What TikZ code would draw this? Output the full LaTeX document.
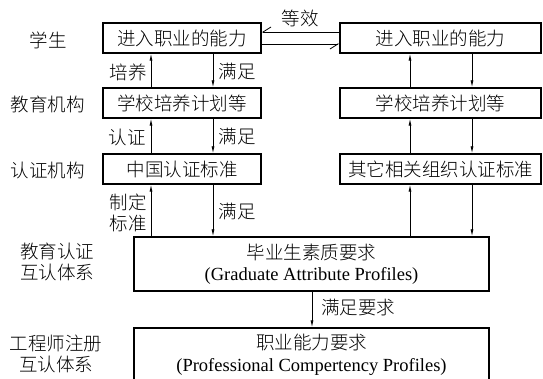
\documentclass[tikz,border=0pt]{standalone}
\usepackage{fontspec}
\setmainfont{Liberation Serif}
\newfontfamily\cjk{Noto Sans CJK SC Light}
\usetikzlibrary{arrows.meta}
\tikzset{
  box/.style={draw, line width=1.3pt, inner sep=0pt, align=center, font=\cjk\fontsize{18.5}{21.5}\selectfont},
  lbl/.style={inner sep=0pt, align=center, font=\cjk\fontsize{18.5}{21.5}\selectfont},
  arr/.style={line width=0.8pt, -{Latex[length=7pt,width=3pt]}},
  harp/.style={line width=0.8pt, -{Straight Barb[right,length=8pt,width=10pt]}}
}
\begin{document}
\begin{tikzpicture}[x=1pt,y=-1pt]
\clip (0,0) rectangle (543,379);
\fill[white] (0,0) rectangle (543,379);
% boxes
\node[box, minimum width=158pt, minimum height=30pt] (L1) at (182,38) {进入职业的能力};
\node[box, minimum width=158pt, minimum height=30pt] (L2) at (182,103) {学校培养计划等};
\node[box, minimum width=158pt, minimum height=30pt] (L3) at (182,169) {中国认证标准};
\node[box, minimum width=201pt, minimum height=30pt] (R1) at (440.5,38) {进入职业的能力};
\node[box, minimum width=201pt, minimum height=30pt] (R2) at (440.5,103) {学校培养计划等};
\node[box, minimum width=201pt, minimum height=30pt] (R3) at (440.5,169) {其它相关组织认证标准};
\node[box, minimum width=355pt, minimum height=54pt] (G) at (311.5,264) {毕业生素质要求\\{\rmfamily (Graduate Attribute Profiles)}};
\node[box, minimum width=355pt, minimum height=54pt] (P) at (311.5,355) {职业能力要求\\{\rmfamily (Professional Compertency Profiles)}};
% left labels
\node[lbl] (s1) at (48,40) {学生};
\node[lbl] (s2) at (47.5,104) {教育机构};
\node[lbl] (s3) at (47.5,170) {认证机构};
\node[lbl] (s4) at (57,262) {教育认证\\互认体系};
\node[lbl] (s5) at (56,354) {工程师注册\\互认体系};
% column coordinates
\coordinate (xa) at (151,0);
\coordinate (xb) at (213,0);
\coordinate (xc) at (410,0);
\coordinate (xd) at (472,0);
\coordinate (xm) at (312,0);
\coordinate (e1) at (0,32);
\coordinate (e2) at (0,44);
% left column arrows
\draw[arr] (L2.north -| xa) -- (L1.south -| xa);
\draw[arr] (L1.south -| xb) -- (L2.north -| xb);
\draw[arr] (L3.north -| xa) -- (L2.south -| xa);
\draw[arr] (L2.south -| xb) -- (L3.north -| xb);
\draw[arr] (G.north -| xa) -- (L3.south -| xa);
\draw[arr] (L3.south -| xb) -- (G.north -| xb);
% right column arrows
\draw[arr] (R2.north -| xc) -- (R1.south -| xc);
\draw[arr] (R1.south -| xd) -- (R2.north -| xd);
\draw[arr] (R3.north -| xc) -- (R2.south -| xc);
\draw[arr] (R2.south -| xd) -- (R3.north -| xd);
\draw[arr] (G.north -| xc) -- (R3.south -| xc);
\draw[arr] (R3.south -| xd) -- (G.north -| xd);
% bottom arrow
\draw[arr] (G.south -| xm) -- (P.north -| xm);
% equivalence
\draw[harp] (R1.west |- e1) -- (L1.east |- e1);
\draw[harp] (L1.east |- e2) -- (R1.west |- e2);
% arrow labels
\node[lbl] (t0) at (300,18) {等效};
\node[lbl] (t1) at (128,72) {培养};
\node[lbl] (t2) at (237,72) {满足};
\node[lbl] (t3) at (127,137) {认证};
\node[lbl] (t4) at (237,137) {满足};
\node[lbl] (t5) at (128,213) {制定\\标准};
\node[lbl] (t6) at (237,212) {满足};
\node[lbl] (t7) at (358,308) {满足要求};
\end{tikzpicture}
\end{document}
